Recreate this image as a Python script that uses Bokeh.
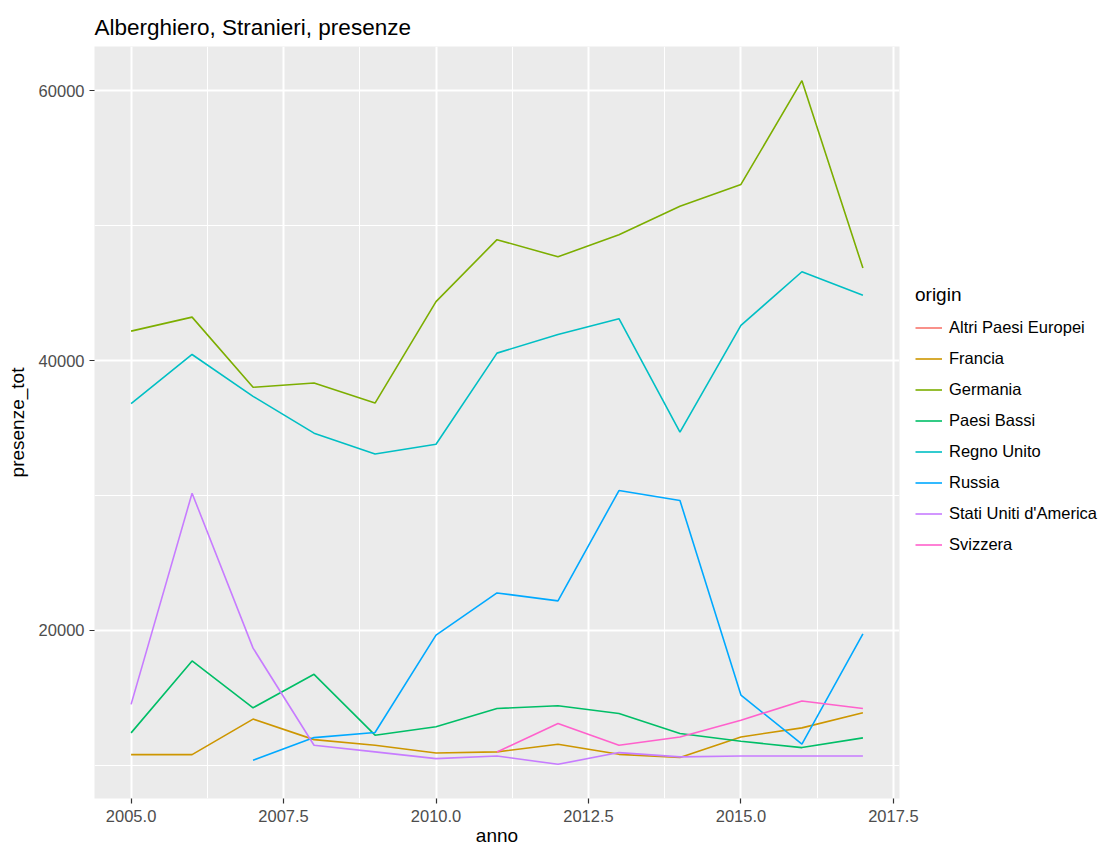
from bokeh.plotting import figure
from bokeh.models import (Range1d, FixedTicker, Legend, LegendItem, ColumnDataSource,
                          NumeralTickFormatter)
from bokeh.embed import file_html
from bokeh.resources import INLINE

nan = float("nan")
years = list(range(2005, 2018))

origins = ["Altri Paesi Europei", "Francia", "Germania", "Paesi Bassi",
           "Regno Unito", "Russia", "Stati Uniti d'America", "Svizzera"]
colors = ["#F8766D", "#CD9600", "#7CAE00", "#00BE67",
          "#00BFC4", "#00A9FF", "#C77CFF", "#FF61CC"]

# Altri Paesi Europei: no values drawn in the chart (missing)
altri_years = years
altri = [nan] * len(years)

francia_years = years
francia = [10800, 10800, 13430, 11910, 11490, 10920, 11000, 11570, 10820, 10580, 12110, 12780, 13900]

germania_years = years
germania = [42180, 43220, 38020, 38340, 36850, 44370, 48960, 47690, 49330, 51440, 53050, 60740, 46850]

paesi_bassi_years = years
paesi_bassi = [12410, 17740, 14270, 16750, 12240, 12860, 14220, 14420, 13850, 12360, 11790, 11320, 12040]

regno_unito_years = years
regno_unito = [36800, 40450, 37350, 34620, 33080, 33800, 40550, 41930, 43100, 34690, 42600, 46580, 44840]

russia_years = list(range(2007, 2018))
russia = [10380, 12060, 12440, 19650, 22780, 22190, 30370, 29630, 15210, 11570, 19750]

usa_years = years
usa = [14520, 30170, 18690, 11490, 11000, 10500, 10700, 10080, 10950, 10630, 10700, 10700, 10700]

svizzera_years = list(range(2011, 2018))
svizzera = [11000, 13110, 11490, 12110, 13350, 14770, 14220]

series_years = [altri_years, francia_years, germania_years, paesi_bassi_years,
                regno_unito_years, russia_years, usa_years, svizzera_years]
series_vals = [altri, francia, germania, paesi_bassi, regno_unito, russia, usa, svizzera]

x_ticks = [2005.0, 2007.5, 2010.0, 2012.5, 2015.0, 2017.5]
x_minor = [2006.25, 2008.75, 2011.25, 2013.75, 2016.25]
y_ticks = [20000, 40000, 60000]
y_minor = [10000, 30000, 50000]

# ggplot-like 5% expansion
xmin, xmax = min(years), max(years)
xpad = (xmax - xmin) * 0.05
allv = [v for s in series_vals for v in s if v == v]
ymin, ymax = min(allv), max(allv)
ypad = (ymax - ymin) * 0.05

FONT = "Liberation Sans"

p = figure(frame_width=805, frame_height=752, output_backend="svg", toolbar_location=None,
           x_range=Range1d(xmin - xpad, xmax + xpad),
           y_range=Range1d(ymin - ypad, ymax + ypad),
           title="Alberghiero, Stranieri, presenze",
           min_border_left=94, min_border_right=0, min_border_top=46, min_border_bottom=49)

p.background_fill_color = "#EBEBEB"
p.border_fill_color = "white"
p.outline_line_color = None

p.title.text_font = FONT
p.title.text_font_size = "22.5px"
p.title.text_font_style = "normal"
p.title.text_color = "black"
p.title.offset = 0
p.title.standoff = 13

p.xaxis.ticker = FixedTicker(ticks=x_ticks, minor_ticks=x_minor)
p.yaxis.ticker = FixedTicker(ticks=y_ticks, minor_ticks=y_minor)
p.xaxis.formatter = NumeralTickFormatter(format="0.0")
p.yaxis.formatter = NumeralTickFormatter(format="0")

for ax in (p.xaxis, p.yaxis):
    ax.axis_line_color = None
    ax.major_tick_line_color = "#333333"
    ax.major_tick_line_width = 1.2
    ax.major_tick_out = 5
    ax.major_tick_in = 0
    ax.minor_tick_line_color = None
    ax.major_label_text_font = FONT
    ax.major_label_text_font_size = "16.5px"
    ax.major_label_text_color = "#4D4D4D"
    ax.axis_label_text_font = FONT
    ax.axis_label_text_font_size = "19px"
    ax.axis_label_text_font_style = "normal"
    ax.axis_label_text_color = "black"

p.xaxis.major_label_standoff = 6
p.yaxis.major_label_standoff = 5
p.xaxis.axis_label = "anno"
p.yaxis.axis_label = "presenze_tot"
p.xaxis.axis_label_standoff = 0
p.yaxis.axis_label_standoff = 8

p.grid.grid_line_color = "white"
p.grid.grid_line_width = 2
p.grid.minor_grid_line_color = "white"
p.grid.minor_grid_line_width = 1

items = []
for name, col, xs, ys in zip(origins, colors, series_years, series_vals):
    src = ColumnDataSource(dict(x=xs, y=ys))
    r = p.line("x", "y", source=src, line_color=col, line_width=1.6)
    items.append(LegendItem(label=name, renderers=[r]))

legend = Legend(items=items, title="origin", location="center_left")
legend.title_text_font = FONT
legend.title_text_font_size = "19px"
legend.title_text_font_style = "normal"
legend.title_text_color = "black"
legend.title_standoff = 6
legend.label_text_font = FONT
legend.label_text_font_size = "16.5px"
legend.label_text_color = "black"
legend.glyph_width = 27
legend.glyph_height = 31
legend.label_height = 31
legend.label_standoff = 7
legend.spacing = 0
legend.padding = 0
legend.margin = 16
legend.border_line_color = None
legend.background_fill_alpha = 0
p.add_layout(legend, "right")

open("out.html", "w").write(file_html(p, INLINE))
